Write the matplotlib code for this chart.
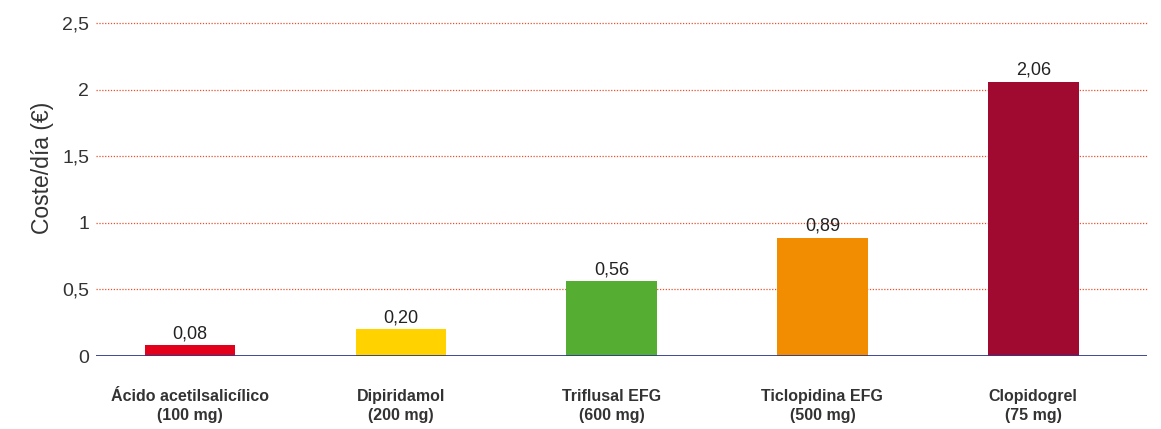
import matplotlib
matplotlib.use("Agg")
import matplotlib.pyplot as plt
from matplotlib import font_manager

categories = ["Ácido acetilsalicílico\n(100 mg)", "Dipiridamol\n(200 mg)", "Triflusal EFG\n(600 mg)",
              "Ticlopidina EFG\n(500 mg)", "Clopidogrel\n(75 mg)"]
values = [0.08, 0.20, 0.56, 0.89, 2.06]
labels = ["0,08", "0,20", "0,56", "0,89", "2,06"]
colors = ["#E2001A", "#FFD200", "#55AE32", "#F28C00", "#A00A30"]
yticks = [0, 0.5, 1, 1.5, 2, 2.5]
yticklabels = ["0", "0,5", "1", "1,5", "2", "2,5"]

names = {f.name for f in font_manager.fontManager.ttflist}
if "Liberation Sans Narrow" in names:
    narrow = "Liberation Sans Narrow"
elif "DejaVu Sans Condensed" in names:
    narrow = "DejaVu Sans Condensed"
else:
    narrow = "Liberation Sans"

fig = plt.figure(figsize=(11.61, 4.29), dpi=100)
ax = fig.add_axes([0.0827, 0.170, 0.9053, 0.776])
x = list(range(len(values)))
ax.bar(x, values, width=0.43, color=colors, zorder=3)
for xi, v, l in zip(x, values, labels):
    ax.text(xi, v + 0.025, l, ha="center", va="bottom", fontsize=13, color="#222222",
            family="Liberation Sans")
ax.set_xlim(-0.446, 4.54)
ax.set_ylim(0, 2.5)
for s in ax.spines.values():
    s.set_visible(False)
ax.axhline(0, color="#2B3A8C", lw=2, zorder=4)
for t in yticks[1:]:
    ax.axhline(t, color="#E8502F", lw=0.9, ls=(0, (1, 1.3)), zorder=1, clip_on=False)
ax.set_yticks(yticks)
ax.set_yticklabels(yticklabels, fontsize=14, color="#333333", family="Liberation Sans")
ax.tick_params(axis="y", length=0, pad=5)
ax.set_xticks(x)
ax.set_xticklabels(categories, fontsize=11.5, color="#333333", family=narrow, fontweight="bold",
                   linespacing=1.3)
ax.tick_params(axis="x", length=0, pad=24)
fig.text(42 / 1161, 1 - 168 / 429, "Coste/día (€)", rotation=90, ha="center", va="center",
         fontsize=16.5, color="#333333", family="Liberation Sans")
fig.savefig("out.png", dpi=100)
